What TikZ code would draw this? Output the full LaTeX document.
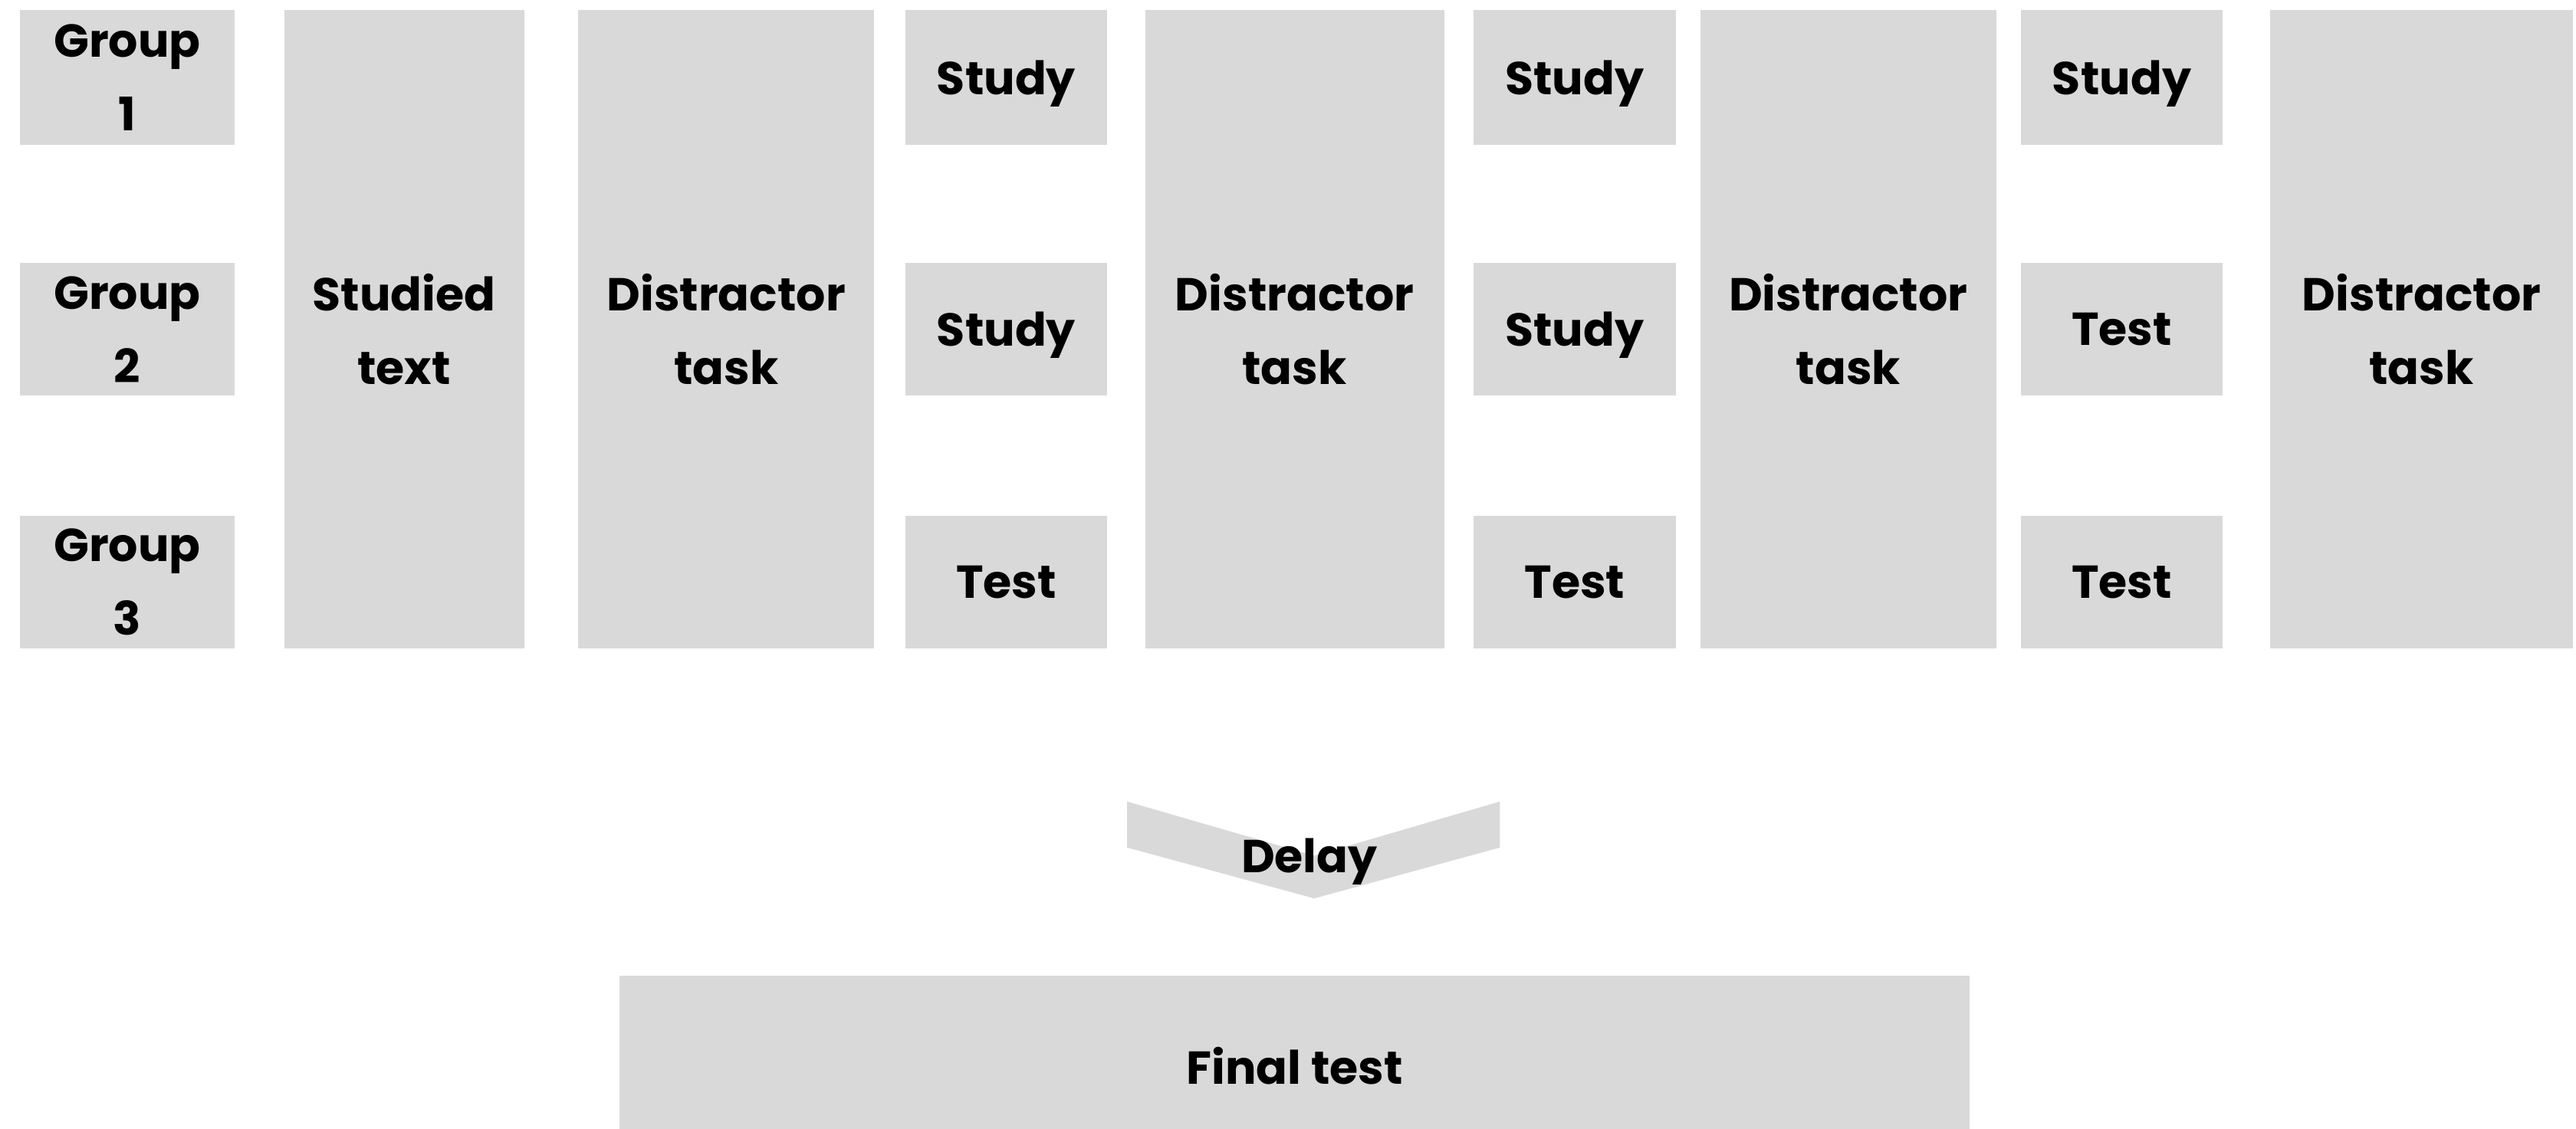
\documentclass[tikz,border=0pt]{standalone}
\usepackage{fontspec}
\setmainfont{Poppins}
\definecolor{boxgray}{HTML}{D9D9D9}
\tikzset{
  blk/.style 2 args={fill=boxgray, inner sep=0pt, align=center,
    minimum width=#1*0.02cm, minimum height=#2*0.02cm,
    font=\fontsize{16}{25.5}\selectfont\bfseries},
  one/.style={text depth=0pt}
}
\begin{document}
\begin{tikzpicture}[x=0.02cm, y=-0.02cm]
        \useasboundingbox (0,0) rectangle (1568,687);
        % groups
        \node[blk={131}{82}] (g1) at (77.5,47) {Group\\1};
        \node[blk={131}{81}] (g2) at (77.5,200.5) {Group\\2};
        \node[blk={131}{81}] (g3) at (77.5,354.5) {Group\\3};
        \node[blk={146}{389}] (text) at (246,200.5) {Studied\\text};
        % first round
        \node[blk={180}{389}] (dis1) at (442,200.5) {Distractor\\task};
        \node[blk={123}{82}, one] (a1) at (612.5,47) {Study};
        \node[blk={123}{81}, one] (a2) at (612.5,200.5) {Study};
        \node[blk={123}{81}, one] (a3) at (612.5,354.5) {Test};
        % second round
        \node[blk={182}{389}] (dis2) at (788,200.5) {Distractor\\task};
        \node[blk={123}{82}, one] (b1) at (958.5,47) {Study};
        \node[blk={123}{81}, one] (b2) at (958.5,200.5) {Study};
        \node[blk={123}{81}, one] (b3) at (958.5,354.5) {Test};
        % third round
        \node[blk={180}{389}] (dis3) at (1125,200.5) {Distractor\\task};
        \node[blk={123}{82}, one] (c1) at (1291.5,47) {Study};
        \node[blk={123}{81}, one] (c2) at (1291.5,200.5) {Test};
        \node[blk={123}{81}, one] (c3) at (1291.5,354.5) {Test};
        \node[blk={184}{389}] (dis4) at (1474,200.5) {Distractor\\task};
        % delay and final test
        \fill[boxgray] (686,488) -- (800,521) -- (913,488) -- (913,516)
          -- (800,547) -- (686,516) -- cycle;
        \node[font=\fontsize{16}{25.5}\selectfont\bfseries, inner sep=0pt, one] (delay) at (797,521) {Delay};
        \node[blk={822}{110}, one] (final) at (788,649) {Final test};
\end{tikzpicture}
\end{document}
